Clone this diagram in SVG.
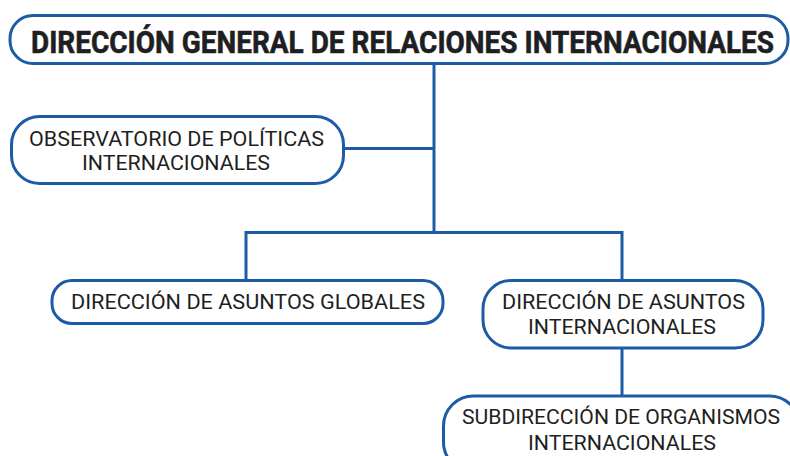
<svg xmlns="http://www.w3.org/2000/svg" width="790" height="456" viewBox="0 0 790 456">
<style>
.box{fill:#fff;stroke:#1c5ca6;stroke-width:3}
.ln{fill:none;stroke:#1c5ca6;stroke-width:3}
.t{font-family:Roboto,"Liberation Sans",sans-serif;font-size:21px;fill:#1e1f22;text-anchor:start}
.h{font-family:Roboto,"Liberation Sans",sans-serif;font-size:31px;font-weight:bold;fill:#1e1f22;stroke:#1e1f22;stroke-width:0.6}
</style>
<rect width="790" height="456" fill="#fff"/>
<g id="connectors">
<path class="ln" d="M434 64V232"/>
<path class="ln" d="M344 148.5H434"/>
<path class="ln" d="M246 281V232.5H622V281"/>
<path class="ln" d="M622 348V396"/>
</g>
<g id="n-dg">
<rect class="box" x="10" y="15.5" width="778" height="48" rx="23"/>
<text class="h" x="31" y="53" textLength="743" lengthAdjust="spacingAndGlyphs">DIRECCIÓN GENERAL DE RELACIONES INTERNACIONALES</text>
</g>
<g id="n-obs">
<rect class="box" x="11.5" y="116.5" width="332" height="67" rx="28"/>
<text class="t" x="29" y="146" textLength="295" lengthAdjust="spacingAndGlyphs">OBSERVATORIO DE POLÍTICAS</text>
<text class="t" x="82" y="170" textLength="188" lengthAdjust="spacingAndGlyphs">INTERNACIONALES</text>
</g>
<g id="n-dag">
<rect class="box" x="52" y="280.5" width="391" height="43" rx="20"/>
<text class="t" x="71" y="309" textLength="354" lengthAdjust="spacingAndGlyphs">DIRECCIÓN DE ASUNTOS GLOBALES</text>
</g>
<g id="n-dai">
<rect class="box" x="483" y="280.5" width="280" height="67.5" rx="28"/>
<text class="t" x="502" y="309" textLength="243" lengthAdjust="spacingAndGlyphs">DIRECCIÓN DE ASUNTOS</text>
<text class="t" x="528" y="334" textLength="188" lengthAdjust="spacingAndGlyphs">INTERNACIONALES</text>
</g>
<g id="n-soi">
<rect class="box" x="443.5" y="396" width="356" height="76" rx="30"/>
<text class="t" x="462" y="424" textLength="318" lengthAdjust="spacingAndGlyphs">SUBDIRECCIÓN DE ORGANISMOS</text>
<text class="t" x="528" y="450" textLength="188" lengthAdjust="spacingAndGlyphs">INTERNACIONALES</text>
</g>
</svg>
